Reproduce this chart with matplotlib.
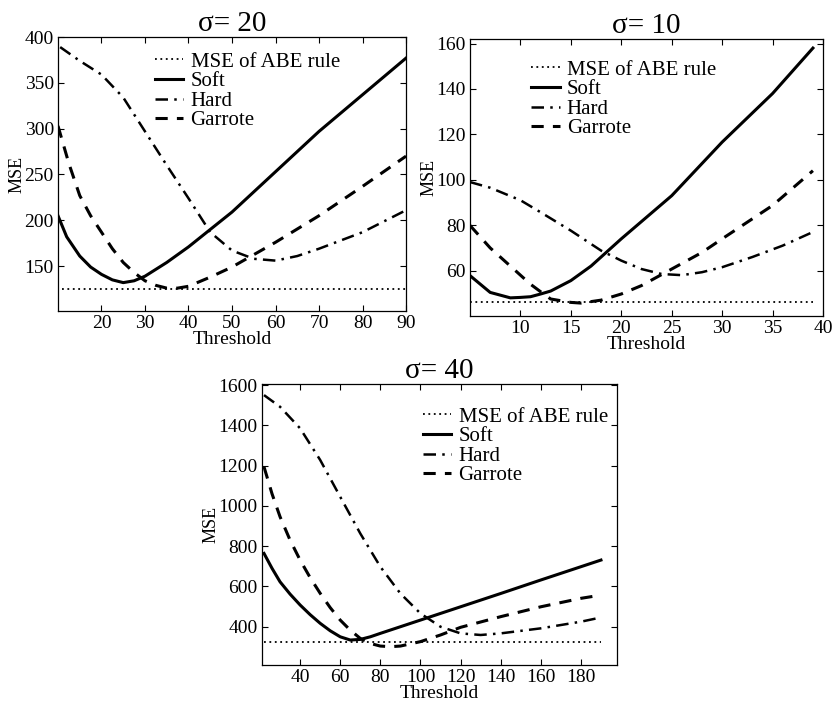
import matplotlib
matplotlib.use("Agg")
import matplotlib.pyplot as plt

plt.rcParams['font.family'] = ['Liberation Serif', 'DejaVu Serif']

# sigma = 20
x20_soft = [10, 12, 15, 17.5, 20, 22.5, 25, 27.5, 30, 35, 40, 50, 60, 70, 80, 90]
y20_soft = [205, 182, 161, 149, 141, 135, 132, 134, 139, 154, 171, 209, 253, 297, 337, 377]
x20_hard = [10.5, 15, 20, 25, 30, 35, 40, 45, 50, 55, 60, 65, 70, 75, 80, 85, 90]
y20_hard = [389, 374, 359, 334, 297, 260, 224, 187, 167, 158, 156, 161, 169, 178, 187, 199, 211]
x20_garr = [10, 12.5, 15, 17.5, 20, 22.5, 25, 27.5, 30, 32.5, 35, 37.5, 40, 45, 50, 60, 70, 80, 90]
y20_garr = [303, 262, 227, 205, 187, 169, 154, 143, 134, 129, 126, 126, 128, 138, 149, 176, 205, 237, 270]
abe20 = 125
xr20 = [11, 90]

# sigma = 10
x10_soft = [5, 7, 9, 10, 11, 12, 13, 15, 17, 20, 25, 30, 35, 39]
y10_soft = [57.8, 50.4, 48, 48.2, 48.5, 49.7, 51, 55.6, 62, 74, 93, 116.6, 138, 158]
x10_hard = [5, 7, 10, 12, 15, 18, 20, 22, 24, 26, 28, 30, 33, 36, 39]
y10_hard = [99, 96.5, 91, 85.7, 77.6, 68.8, 64.4, 60.7, 58.5, 58, 59.3, 61.5, 66, 71, 77]
x10_garr = [5, 7, 9, 11, 12, 13, 15, 16, 18, 20, 22, 25, 28, 30, 35, 39]
y10_garr = [79.9, 70, 62, 54, 50.7, 47.5, 46, 45.7, 47, 49.7, 53.4, 60.7, 68, 74, 88.7, 104]
abe10 = 46.3
xr10 = [5, 39]

# sigma = 40
x40_soft = [22, 26, 30, 35, 40, 45, 50, 55, 60, 65, 70, 75, 80, 100, 120, 140, 160, 180, 190]
y40_soft = [764, 690, 623, 562, 508, 460, 417, 380, 350, 334, 337, 350, 367, 433, 499, 565, 632, 698, 731]
x40_hard = [22, 30, 40, 50, 60, 70, 80, 90, 100, 110, 120, 130, 140, 160, 180, 190]
y40_hard = [1550, 1492, 1385, 1228, 1045, 863, 698, 565, 466, 400, 367, 359, 367, 392, 425, 446]
x40_garr = [22, 26, 30, 35, 40, 45, 50, 55, 60, 65, 70, 75, 80, 85, 90, 100, 110, 120, 140, 160, 180, 190]
y40_garr = [1194, 1060, 946, 830, 731, 644, 566, 495, 433, 383, 342, 317, 304, 301, 304, 326, 359, 397, 450, 499, 541, 557]
abe40 = 325
xr40 = [22, 190]

fig = plt.figure(figsize=(8.32, 7.04), dpi=100)


def panel(rect, title, xs, ys, xh, yh, xg, yg, abe, xr, xlim, ylim, xticks, yticks, legloc):
    ax = fig.add_axes(rect)
    ax.plot(xr, [abe, abe], color='black', linestyle=(0, (1, 2)), lw=1.3, label='MSE of ABE rule')
    ax.plot(xs, ys, color='black', lw=2.2, label='Soft')
    ax.plot(xh, yh, color='black', lw=1.8, linestyle=(0, (5, 2.5, 1, 2.5)), label='Hard')
    ax.plot(xg, yg, color='black', lw=2.2, linestyle=(0, (4, 3)), label='Garrote')
    ax.set_xlim(*xlim)
    ax.set_ylim(*ylim)
    ax.set_xticks(xticks)
    ax.set_yticks(yticks)
    ax.tick_params(direction='in', top=True, right=True, labelsize=14, length=4, pad=3)
    ax.set_title(title, fontsize=21, pad=4)
    ax.set_xlabel('Threshold', fontsize=14, labelpad=-1)
    ax.set_ylabel('MSE', fontsize=13, labelpad=-1)
    ax.legend(loc='upper left', bbox_to_anchor=legloc, frameon=False, fontsize=15,
              handlelength=1.35, handletextpad=0.35, labelspacing=0.0, borderaxespad=0,
              borderpad=0)
    for s in ax.spines.values():
        s.set_linewidth(0.9)
    return ax


panel([0.0697, 0.5582, 0.4183, 0.3892], 'σ= 20',
      x20_soft, y20_soft, x20_hard, y20_hard, x20_garr, y20_garr, abe20, xr20,
      (10, 90), (101, 400), [20, 30, 40, 50, 60, 70, 80, 90], [150, 200, 250, 300, 350, 400],
      (0.279, 0.945))
panel([0.5649, 0.5511, 0.4243, 0.3935], 'σ= 10',
      x10_soft, y10_soft, x10_hard, y10_hard, x10_garr, y10_garr, abe10, xr10,
      (5, 40), (40, 162), [10, 15, 20, 25, 30, 35, 40], [60, 80, 100, 120, 140, 160],
      (0.174, 0.924))
panel([0.3149, 0.0554, 0.4267, 0.3991], 'σ= 40',
      x40_soft, y40_soft, x40_hard, y40_hard, x40_garr, y40_garr, abe40, xr40,
      (21, 198), (210, 1605), [40, 60, 80, 100, 120, 140, 160, 180],
      [400, 600, 800, 1000, 1200, 1400, 1600],
      (0.454, 0.918))

fig.savefig('out.png', dpi=100)
